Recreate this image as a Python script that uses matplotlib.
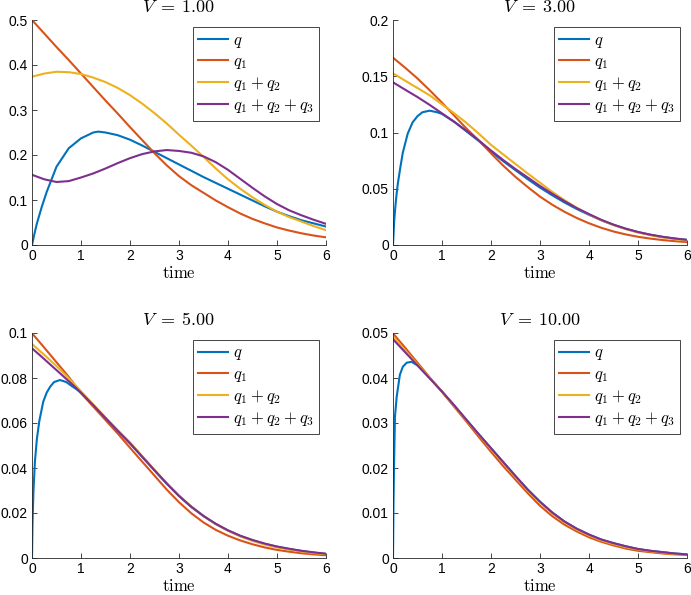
import numpy as np
import matplotlib
matplotlib.use("Agg")
import matplotlib.pyplot as plt

plt.rcParams['font.family'] = ['Liberation Sans', 'DejaVu Sans']
plt.rcParams['mathtext.fontset'] = 'cm'

# Colores estilo MATLAB
c_q, c_q1, c_q12, c_q123 = '#0072BD', '#D95319', '#EDB120', '#7E2F8E'

# Malla de tiempo comun (paso 0.25)
t = np.arange(0, 6.001, 0.25)

# ---- V = 1.00 ----
v1_q1 = [0.500, 0.470, 0.440, 0.411, 0.381, 0.351, 0.321, 0.292, 0.262, 0.233, 0.204, 0.177, 0.153,
         0.133, 0.116, 0.099, 0.084, 0.070, 0.058, 0.048, 0.039, 0.032, 0.026, 0.021, 0.017]
v1_q12 = [0.374, 0.381, 0.385, 0.384, 0.380, 0.372, 0.362, 0.349, 0.333, 0.314, 0.293, 0.270, 0.245,
          0.221, 0.196, 0.170, 0.146, 0.125, 0.106, 0.089, 0.074, 0.062, 0.052, 0.042, 0.033]
v1_q123 = [0.156, 0.146, 0.140, 0.142, 0.150, 0.159, 0.170, 0.182, 0.193, 0.202, 0.208, 0.211, 0.209,
           0.205, 0.197, 0.184, 0.167, 0.147, 0.127, 0.108, 0.091, 0.077, 0.066, 0.056, 0.047]
v1_tq = [0, 0.05, 0.1, 0.2, 0.3, 0.4, 0.5, 0.75, 1, 1.25, 1.35, 1.5, 1.75, 2, 2.25, 2.5, 2.75, 3,
         3.25, 3.5, 3.75, 4, 4.25, 4.5, 4.75, 5, 5.25, 5.5, 5.75, 6]
v1_q = [0, 0.025, 0.048, 0.085, 0.118, 0.146, 0.174, 0.215, 0.237, 0.250, 0.252, 0.250, 0.244, 0.234,
        0.221, 0.207, 0.193, 0.179, 0.165, 0.151, 0.138, 0.125, 0.112, 0.099, 0.086, 0.074, 0.064,
        0.055, 0.048, 0.041]

# ---- V = 3.00 ----
v3_q1 = [0.1665, 0.1575, 0.148, 0.1375, 0.1265, 0.115, 0.1035, 0.093, 0.0815, 0.0705, 0.0605, 0.0515,
         0.043, 0.0358, 0.0295, 0.024, 0.0193, 0.0153, 0.012, 0.0094, 0.0073, 0.0057, 0.0044, 0.0034, 0.0026]
v3_q12 = [0.1526, 0.146, 0.1395, 0.133, 0.125, 0.117, 0.1085, 0.099, 0.089, 0.0805, 0.072, 0.0635,
          0.0554, 0.0472, 0.0398, 0.0331, 0.0272, 0.0220, 0.0177, 0.0141, 0.0111, 0.0087, 0.0067, 0.0052, 0.0040]
v3_q123 = [0.1446, 0.138, 0.1315, 0.1245, 0.117, 0.1095, 0.1015, 0.093, 0.084, 0.0755, 0.0675, 0.060,
           0.0525, 0.0455, 0.039, 0.0328, 0.0275, 0.0224, 0.0181, 0.0145, 0.0116, 0.0092, 0.0073, 0.0058, 0.0046]
v3_tq = [0, 0.025, 0.05, 0.075, 0.1, 0.15, 0.2, 0.3, 0.4, 0.5, 0.6, 0.75, 0.9, 1, 1.25, 1.5, 1.75, 2,
         2.25, 2.5, 2.75, 3, 3.25, 3.5, 3.75, 4, 4.25, 4.5, 4.75, 5, 5.25, 5.5, 5.75, 6]
v3_q = [0, 0.022, 0.035, 0.046, 0.055, 0.069, 0.082, 0.099, 0.109, 0.1145, 0.118, 0.1194, 0.118, 0.1165,
        0.1095, 0.101, 0.0925, 0.083, 0.0745, 0.0665, 0.0585, 0.0510, 0.0442, 0.0378, 0.0320, 0.0268,
        0.0220, 0.0179, 0.0144, 0.0114, 0.0091, 0.0072, 0.0057, 0.0045]

# ---- V = 5.00 ----
v5_q1 = [0.0999, 0.0935, 0.0870, 0.0805, 0.0733, 0.0673, 0.0613, 0.0553, 0.0490, 0.0428, 0.0366, 0.0304,
         0.0248, 0.0199, 0.0158, 0.0125, 0.0099, 0.0078, 0.0061, 0.0047, 0.0036, 0.0028, 0.0021, 0.0016, 0.0012]
v5_q12 = [0.0951, 0.0903, 0.0853, 0.0799, 0.0741, 0.0683, 0.0625, 0.0569, 0.0514, 0.0453, 0.0392, 0.0333,
          0.0278, 0.0229, 0.0187, 0.0151, 0.0121, 0.0096, 0.0076, 0.0060, 0.0047, 0.0037, 0.0029, 0.0022, 0.0017]
v5_q123 = [0.0932, 0.0884, 0.0835, 0.0786, 0.0735, 0.0679, 0.0622, 0.0565, 0.0510, 0.0450, 0.0390, 0.0331,
           0.0276, 0.0228, 0.0187, 0.0152, 0.0123, 0.0099, 0.0080, 0.0064, 0.0051, 0.0041, 0.0032, 0.0025, 0.0019]
v5_tq = [0, 0.01, 0.03, 0.06, 0.1, 0.15, 0.23, 0.3, 0.37, 0.45, 0.57, 0.7, 0.8, 0.91, 1, 1.25, 1.5,
         1.75, 2, 2.25, 2.5, 2.75, 3, 3.25, 3.5, 3.75, 4, 4.25, 4.5, 4.75, 5, 5.25, 5.5, 5.75, 6]
v5_q = [0, 0.015, 0.030, 0.043, 0.053, 0.061, 0.0695, 0.0735, 0.0761, 0.0782, 0.0791, 0.0782, 0.0766,
        0.0750, 0.0733, 0.0678, 0.0621, 0.0564, 0.0509, 0.0449, 0.0389, 0.0330, 0.0275, 0.0227, 0.0186,
        0.0151, 0.0122, 0.0098, 0.0079, 0.0063, 0.0050, 0.0040, 0.0031, 0.0024, 0.0018]

# ---- V = 10.00 ----
v10_q1 = [0.0499, 0.0467, 0.0434, 0.0401, 0.0369, 0.0336, 0.0303, 0.0269, 0.0236, 0.0204, 0.0174, 0.0144,
          0.0116, 0.0093, 0.0074, 0.0059, 0.0046, 0.0036, 0.0028, 0.0021, 0.0016, 0.0013, 0.0010, 0.0008, 0.0007]
v10_q12 = [0.0492, 0.0461, 0.0430, 0.0400, 0.0370, 0.0338, 0.0306, 0.0274, 0.0242, 0.0211, 0.0180, 0.0150,
           0.0123, 0.0099, 0.0079, 0.0063, 0.0050, 0.0039, 0.0031, 0.0024, 0.0019, 0.0015, 0.0012, 0.0009, 0.0008]
v10_q123 = [0.0486, 0.0457, 0.0428, 0.0399, 0.0370, 0.0339, 0.0307, 0.0275, 0.0244, 0.0213, 0.0182, 0.0152,
            0.0125, 0.0101, 0.0081, 0.0065, 0.0052, 0.0041, 0.0033, 0.0026, 0.0020, 0.0016, 0.0013, 0.0010, 0.0008]
v10_tq = [0, 0.01, 0.02, 0.04, 0.075, 0.14, 0.2, 0.28, 0.38, 0.5, 0.75, 1, 1.25, 1.5, 1.75, 2, 2.25,
          2.5, 2.75, 3, 3.25, 3.5, 3.75, 4, 4.25, 4.5, 4.75, 5, 5.25, 5.5, 5.75, 6]
v10_q = [0, 0.012, 0.020, 0.0314, 0.0358, 0.0407, 0.0425, 0.0434, 0.0436, 0.0428, 0.0400, 0.0370, 0.0339,
         0.0307, 0.0275, 0.0244, 0.0213, 0.0182, 0.0152, 0.0125, 0.0101, 0.0081, 0.0065, 0.0052, 0.0041,
         0.0033, 0.0026, 0.0020, 0.0016, 0.0013, 0.0010, 0.0008]

titles = [r'$V\;=\;1.00$', r'$V\;=\;3.00$', r'$V\;=\;5.00$', r'$V\;=\;10.00$']
ylims = [0.5, 0.2, 0.1, 0.05]
yticks = [[0, 0.1, 0.2, 0.3, 0.4, 0.5],
          [0, 0.05, 0.1, 0.15, 0.2],
          [0, 0.02, 0.04, 0.06, 0.08, 0.1],
          [0, 0.01, 0.02, 0.03, 0.04, 0.05]]
yticklabels = [['0', '0.1', '0.2', '0.3', '0.4', '0.5'],
               ['0', '0.05', '0.1', '0.15', '0.2'],
               ['0', '0.02', '0.04', '0.06', '0.08', '0.1'],
               ['0', '0.01', '0.02', '0.03', '0.04', '0.05']]
data = [(v1_tq, v1_q, v1_q1, v1_q12, v1_q123),
        (v3_tq, v3_q, v3_q1, v3_q12, v3_q123),
        (v5_tq, v5_q, v5_q1, v5_q12, v5_q123),
        (v10_tq, v10_q, v10_q1, v10_q12, v10_q123)]

W, H = 691, 595
fig = plt.figure(figsize=(W / 100, H / 100), dpi=100)

# posiciones de los ejes en pixeles (izq, arriba)
pos = [(32, 20), (393, 20), (32, 333), (393, 333)]
aw, ah = 294, 225

ax_col = '#262626'
for i in range(4):
    x0, y0 = pos[i]
    ax = fig.add_axes([x0 / W, (H - y0 - ah) / H, aw / W, ah / H])
    tq, q, q1, q12, q123 = data[i]
    ax.plot(tq, q, color=c_q, lw=1.5, label=r'$q$')
    ax.plot(t, q1, color=c_q1, lw=1.5, label=r'$q_1$')
    ax.plot(t, q12, color=c_q12, lw=1.5, label=r'$q_1 + q_2$')
    ax.plot(t, q123, color=c_q123, lw=1.5, label=r'$q_1 + q_2 + q_3$')
    ax.set_xlim(0, 6)
    ax.set_ylim(0, ylims[i])
    ax.set_xticks(range(7))
    ax.set_yticks(yticks[i])
    ax.set_yticklabels(yticklabels[i])
    ax.spines['top'].set_visible(False)
    ax.spines['right'].set_visible(False)
    for s in ['left', 'bottom']:
        ax.spines[s].set_color(ax_col)
        ax.spines[s].set_linewidth(0.6)
    ax.tick_params(direction='in', length=3.5, width=0.6, color=ax_col,
                   labelsize=10, labelcolor='black', pad=3)
    ax.set_title(titles[i], fontsize=13, pad=6)
    ax.set_xlabel(r'$\mathrm{time}$', fontsize=12, labelpad=1)
    leg = ax.legend(loc='upper right', fontsize=12, fancybox=False, framealpha=1,
                    edgecolor=ax_col, borderaxespad=0.4, handlelength=1.8,
                    handletextpad=0.25, labelspacing=0.25, borderpad=0.35)
    leg.get_frame().set_linewidth(0.6)

fig.savefig('out.png', dpi=100)
